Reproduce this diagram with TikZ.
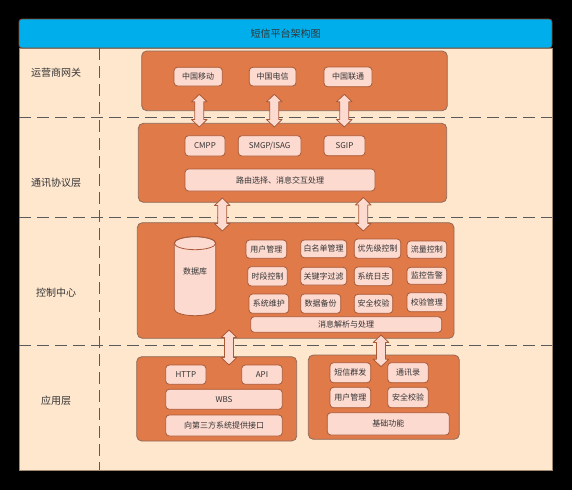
\documentclass[tikz,border=0pt]{standalone}
\usepackage{fontspec}
\setmainfont{Noto Sans CJK SC}
\usetikzlibrary{calc}
\definecolor{bgblack}{HTML}{000000}
\definecolor{panelfill}{HTML}{FFE7CE}
\definecolor{paneldraw}{HTML}{A08870}
\definecolor{titlefill}{HTML}{00AEEB}
\definecolor{titledraw}{HTML}{8A4A2A}
\definecolor{bigfill}{HTML}{E07A48}
\definecolor{bigdraw}{HTML}{8E6A58}
\definecolor{smallfill}{HTML}{FDDAD0}
\definecolor{smalldraw}{HTML}{A85A38}
\definecolor{dashcol}{HTML}{5A5A5A}
\definecolor{txt}{HTML}{333333}
\tikzset{
  bigbox/.style={draw=bigdraw, fill=bigfill, rounded corners=5pt, line width=0.8pt, anchor=north west, inner sep=0pt, outer sep=0pt},
  smallbox/.style={draw=smalldraw, fill=smallfill, rounded corners=3.5pt, line width=0.8pt, anchor=north west, inner sep=0pt, outer sep=0pt, text=txt, font=\fontsize{8}{9}\selectfont},
  sidelabel/.style={text=txt, font=\fontsize{10}{11}\selectfont},
  sepline/.style={draw=dashcol, line width=1.3pt, dash pattern=on 12pt off 6pt},
  fatarrow/.style={draw=smalldraw, fill=smallfill, line width=0.8pt, line join=round},
}
\newcommand\dblarrow[2]{%
  \path[fatarrow] let \p1=(#1), \p2=(#2) in
    (\x1,\y1) -- (\x1+7.8pt,\y1-7.5pt) -- (\x1+4.5pt,\y1-7.5pt) -- (\x1+4.5pt,\y2+7.5pt)
    -- (\x1+7.8pt,\y2+7.5pt) -- (\x1,\y2) -- (\x1-7.8pt,\y2+7.5pt) -- (\x1-4.5pt,\y2+7.5pt)
    -- (\x1-4.5pt,\y1-7.5pt) -- (\x1-7.8pt,\y1-7.5pt) -- cycle;}
\begin{document}
\begin{tikzpicture}[x=1pt,y=-1pt]
\useasboundingbox (0,0) rectangle (572,490);
\fill[bgblack] (0,0) rectangle (572,490);
% panel
\node[draw=paneldraw, fill=panelfill, line width=0.8pt, anchor=north west, inner sep=0pt, outer sep=0pt, minimum width=533pt, minimum height=422pt] (panel) at (19,48) {};
\node[draw=titledraw, fill=titlefill, line width=0.8pt, rounded corners=3pt, anchor=north west, inner sep=0pt, outer sep=0pt, minimum width=533pt, minimum height=29pt, text=txt, font=\fontsize{10}{11}\selectfont] (title) at (19,19) {短信平台架构图};
% separators
\coordinate (h1l) at (19,117.3); \coordinate (h1r) at (552,117.3);
\coordinate (h2l) at (19,217.3); \coordinate (h2r) at (552,217.3);
\coordinate (h3l) at (19,345.7); \coordinate (h3r) at (552,345.7);
\coordinate (vt) at (99.3,48); \coordinate (vb) at (99.3,470);
\draw[sepline] (h1l) -- (h1r);
\draw[sepline] (h2l) -- (h2r);
\draw[sepline] (h3l) -- (h3r);
\draw[sepline] (vt) -- (vb);
% side labels
\node[sidelabel] (l1) at (56,73) {运营商网关};
\node[sidelabel] (l2) at (56,183) {通讯协议层};
\node[sidelabel] (l3) at (56,293) {控制中心};
\node[sidelabel] (l4) at (56,401) {应用层};
% big boxes
\node[bigbox, minimum width=305.6pt, minimum height=59.7pt] (op) at (141.7,51) {};
\node[bigbox, minimum width=308.4pt, minimum height=79pt] (proto) at (138.3,123.3) {};
\node[bigbox, minimum width=316.7pt, minimum height=115.6pt] (ctrl) at (137.3,222.7) {};
\node[bigbox, minimum width=160pt, minimum height=84.3pt] (appl) at (136.7,356.7) {};
\node[bigbox, minimum width=151pt, minimum height=84.3pt] (appr) at (308.3,355) {};
% operator
\node[smallbox, minimum width=48.3pt, minimum height=18.7pt] (m1) at (174,67.3) {中国移动};
\node[smallbox, minimum width=46.7pt, minimum height=18.7pt] (m2) at (249.3,67.3) {中国电信};
\node[smallbox, minimum width=48pt, minimum height=19.7pt] (m3) at (324,67) {中国联通};
% protocol
\node[smallbox, minimum width=40pt, minimum height=20.3pt] (cmpp) at (185,135.7) {CMPP};
\node[smallbox, minimum width=62.7pt, minimum height=20.3pt] (smgp) at (238.3,135.7) {SMGP/ISAG};
\node[smallbox, minimum width=41pt, minimum height=20pt] (sgip) at (324,135.7) {SGIP};
\node[smallbox, minimum width=190pt, minimum height=22pt] (route) at (185,169) {路由选择、消息交互处理};
% control
\node[anchor=north west, inner sep=0pt, outer sep=0pt, minimum width=41.4pt, minimum height=79pt] (db) at (174.3,236.7) {};
\filldraw[draw=smalldraw, fill=smallfill, line width=0.8pt]
  (174.3,243.2) -- (174.3,309.2) arc[start angle=180, end angle=360, x radius=20.7pt, y radius=6.5pt]
  -- (215.7,243.2) arc[start angle=0, end angle=180, x radius=20.7pt, y radius=6.5pt] -- cycle;
\draw[draw=smalldraw, line width=0.8pt] (195,243.2) ellipse[x radius=20.7pt, y radius=6.5pt];
\node[text=txt, font=\fontsize{8}{9}\selectfont] (dbl) at (195,271) {数据库};
\node[smallbox, minimum width=40.7pt, minimum height=18.3pt] (c1) at (246,240) {用户管理};
\node[smallbox, minimum width=46pt, minimum height=17.7pt] (c2) at (300.7,240) {白名单管理};
\node[smallbox, minimum width=46.4pt, minimum height=19.3pt] (c3) at (354.3,239) {优先级控制};
\node[smallbox, minimum width=39.7pt, minimum height=17.3pt] (c4) at (407,241) {流量控制};
\node[smallbox, minimum width=39.6pt, minimum height=19.3pt] (c5) at (247.7,266.7) {时段控制};
\node[smallbox, minimum width=46pt, minimum height=17.7pt] (c6) at (300.7,267.3) {关键字过滤};
\node[smallbox, minimum width=38.4pt, minimum height=18.7pt] (c7) at (354.3,267) {系统日志};
\node[smallbox, minimum width=39.7pt, minimum height=17pt] (c8) at (407,267.3) {监控告警};
\node[smallbox, minimum width=39.7pt, minimum height=19.3pt] (c9) at (249,294) {系统维护};
\node[smallbox, minimum width=40pt, minimum height=19.3pt] (c10) at (300.7,294) {数据备份};
\node[smallbox, minimum width=38.4pt, minimum height=19pt] (c11) at (354.3,294.3) {安全校验};
\node[smallbox, minimum width=39.7pt, minimum height=19pt] (c12) at (407,292.7) {校验管理};
\node[smallbox, minimum width=191pt, minimum height=15.6pt] (msg) at (250.7,316.7) {消息解析与处理};
% application left
\node[smallbox, minimum width=40.3pt, minimum height=19.3pt] (http) at (165.7,365) {HTTP};
\node[smallbox, minimum width=40.6pt, minimum height=19.3pt] (api) at (241.7,365) {API};
\node[smallbox, minimum width=116.6pt, minimum height=20pt] (wbs) at (165.7,389.3) {WBS};
\node[smallbox, minimum width=116.6pt, minimum height=21pt] (iface) at (165.7,415) {向第三方系统提供接口};
% application right
\node[smallbox, minimum width=40.7pt, minimum height=20pt] (r1) at (330,362.7) {短信群发};
\node[smallbox, minimum width=40.6pt, minimum height=20pt] (r2) at (387.7,362.7) {通讯录};
\node[smallbox, minimum width=40.7pt, minimum height=20.4pt] (r3) at (330,387.3) {用户管理};
\node[smallbox, minimum width=40.6pt, minimum height=20.4pt] (r4) at (387.7,387.3) {安全校验};
\node[smallbox, minimum width=122pt, minimum height=22.3pt] (base) at (327.3,412.7) {基础功能};
% arrow end points
\coordinate (a1t) at (199.3,94.3);  \coordinate (a1b) at (199.3,127);
\coordinate (a2t) at (274.3,94.3);  \coordinate (a2b) at (274.3,127);
\coordinate (a3t) at (344.3,94.3);  \coordinate (a3b) at (344.3,127);
\coordinate (a4t) at (222.3,198);   \coordinate (a4b) at (222.3,231);
\coordinate (a5t) at (363.3,197.5); \coordinate (a5b) at (363.3,231);
\coordinate (a6t) at (229,330);     \coordinate (a6b) at (229,365);
\coordinate (a7t) at (381,335);     \coordinate (a7b) at (381,366.7);
\dblarrow{a1t}{a1b}
\dblarrow{a2t}{a2b}
\dblarrow{a3t}{a3b}
\dblarrow{a4t}{a4b}
\dblarrow{a5t}{a5b}
\dblarrow{a6t}{a6b}
\dblarrow{a7t}{a7b}
\end{tikzpicture}
\end{document}
